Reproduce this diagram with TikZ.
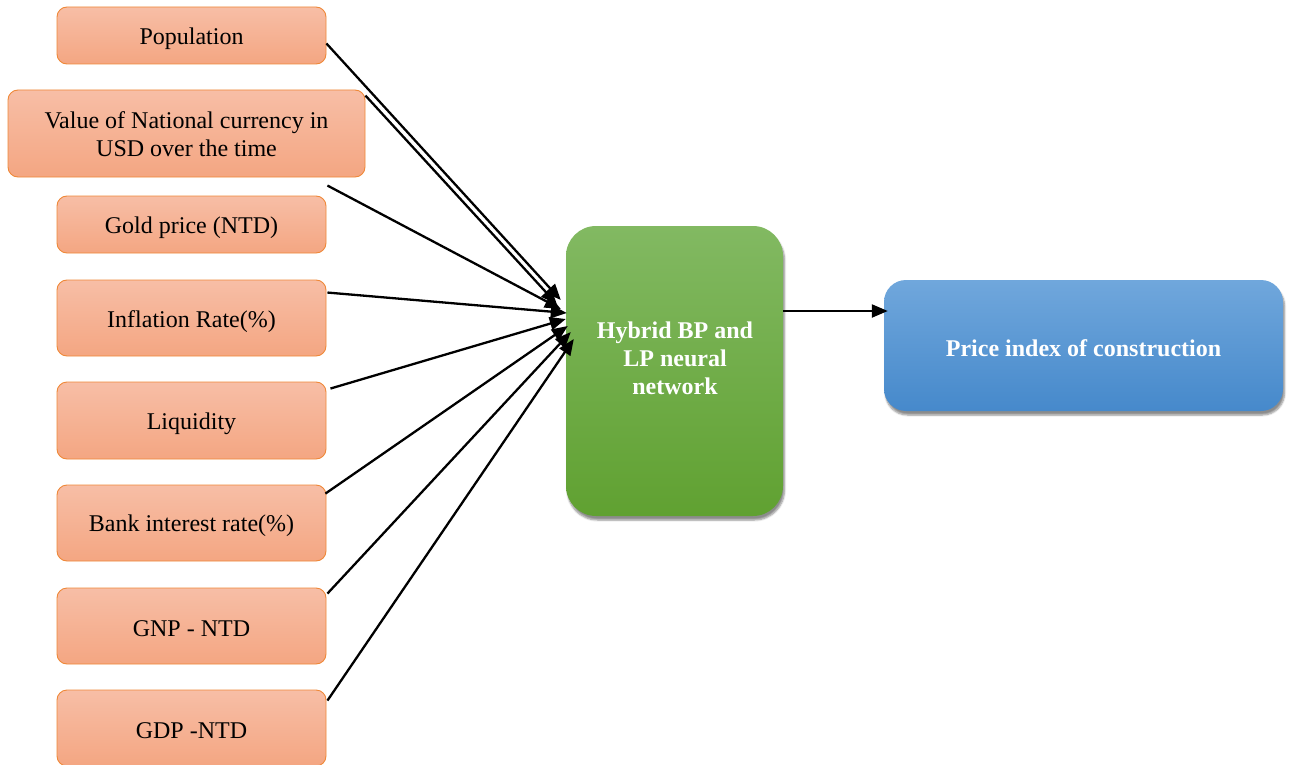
\documentclass[tikz,border=0pt]{standalone}
\usepackage{fontspec}
\setmainfont{Liberation Serif}
\usetikzlibrary{calc,arrows.meta,shadows.blur}
\definecolor{orBorder}{HTML}{EF8838}
\definecolor{orTop}{HTML}{F7BEA6}
\definecolor{orBot}{HTML}{F4A682}
\definecolor{grTop}{HTML}{82B962}
\definecolor{grBot}{HTML}{60A131}
\definecolor{blTop}{HTML}{70A7DC}
\definecolor{blBot}{HTML}{4689CB}
\newcommand{\lowr}[2][3pt]{\raisebox{-#1}[\height][\depth]{#2}}
\begin{document}
\begin{tikzpicture}[x=1pt,y=-1pt,
  inbox/.style={draw=orBorder, line width=0.9pt, rounded corners=10pt,
    top color=orTop, bottom color=orBot, minimum width=269pt, minimum height=76pt,
    inner sep=0pt, align=center, font=\fontsize{24}{28}\selectfont, text=black},
  bigbox/.style={draw=none, inner sep=0pt, align=center,
    blur shadow={shadow xshift=1.5pt, shadow yshift=-4pt, shadow blur steps=6, shadow opacity=45}},
  whitetext/.style={inner sep=0pt, align=center, text=white, font=\fontsize{24}{28}\selectfont\bfseries},
  arr/.style={line width=2.3pt, -{Triangle[length=16pt,width=13pt]}},
]
\useasboundingbox (0,0) rectangle (1293,765);

% input boxes
\node[inbox, minimum height=57pt] (pop) at (191.5,35.5) {\lowr{Population}};
\node[inbox, minimum width=357pt, minimum height=87pt] (val) at (186.5,133.5) {\lowr[1pt]{\shortstack{Value of National currency in\\[3pt]USD over the time}}};
\node[inbox, minimum height=57pt] (gold) at (191.5,224.5) {\lowr{Gold price (NTD)}};
\node[inbox] (infl) at (191.5,318) {\lowr[4pt]{Inflation Rate(\%)}};
\node[inbox, minimum height=77pt] (liq) at (191.5,420.5) {\lowr{Liquidity}};
\node[inbox] (bank) at (191.5,523) {\lowr{Bank interest rate(\%)}};
\node[inbox] (gnp) at (191.5,626) {\lowr{GNP - NTD}};
\node[inbox] (gdp) at (191.5,728) {\lowr{GDP -NTD}};

% hybrid network box
\node[bigbox, rounded corners=30pt, top color=grTop, bottom color=grBot,
      minimum width=217pt, minimum height=290pt] (hy) at (674.5,371) {};
\node[whitetext] (hytxt) at (675,358) {Hybrid BP and\\LP neural\\network};

% output box
\node[bigbox, rounded corners=22pt, top color=blTop, bottom color=blBot,
      minimum width=399pt, minimum height=131pt, whitetext] (out) at (1083.5,345.5) {\lowr{Price index of construction}};

% tips on the hybrid box
\coordinate (t1) at ($(hy.west)+(-5,-71)$);
\coordinate (t2) at ($(hy.west)+(-9,-67)$);
\coordinate (t3) at ($(hy.west)+(-5,-62)$);
\coordinate (t4) at ($(hy.west)+(1,-58)$);
\coordinate (t5) at ($(hy.west)+(0,-52)$);
\coordinate (t6) at ($(hy.west)+(2,-45)$);
\coordinate (t7) at ($(hy.west)+(5,-39)$);
\coordinate (t8) at ($(hy.west)+(8,-32)$);

% connectors
\draw[arr] ($(pop.east)+(0,8)$) -- (t1);
\draw[arr] ($(val.north east)+(0,6)$) -- (t2);
\draw[arr] ($(gold.north east)+(1,-10)$) -- (t3);
\draw[arr] ($(infl.north east)+(1,13)$) -- (t4);
\draw[arr] ($(liq.north east)+(4,7)$) -- (t5);
\draw[arr] ($(bank.north east)+(-1,9)$) -- (t6);
\draw[arr] ($(gnp.north east)+(1,6)$) -- (t7);
\draw[arr] ($(gdp.north east)+(1,11)$) -- (t8);
\draw[arr] ($(hy.east)+(0,-60)$) -- ($(out.west)+(4,-34.5)$);
\end{tikzpicture}
\end{document}
